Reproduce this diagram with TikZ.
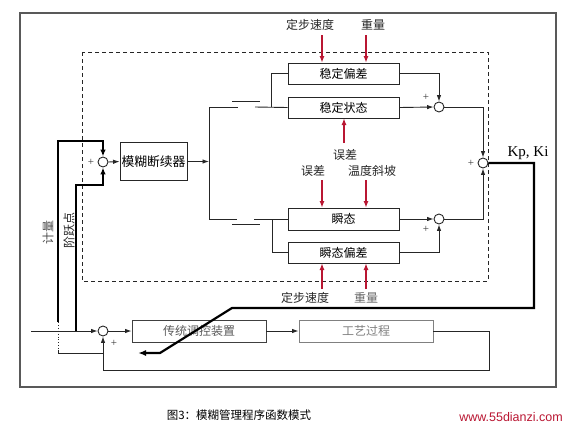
\documentclass[tikz,border=0pt]{standalone}
\usepackage{fontspec}
\setmainfont{Liberation Serif}
\newfontfamily\cjk{Noto Sans CJK SC}
\newfontfamily\urlfont{Liberation Sans}
\usetikzlibrary{arrows.meta,calc}
\definecolor{myred}{RGB}{185,22,50}
\begin{document}
\begin{tikzpicture}[x=1pt,y=-1pt,
  ln/.style={draw=black!85, line width=0.9pt},
  arr/.style={ln, -{Latex[length=6.5pt,width=4.5pt]}},
  thk/.style={draw=black, line width=2.2pt},
  thkarr/.style={thk, -{Latex[length=8pt,width=6pt]}},
  blk/.style={draw=black!85, line width=0.9pt, minimum width=111pt, minimum height=21pt, inner sep=0pt, font=\cjk\fontsize{12}{14}\selectfont},
  sumc/.style={circle, draw=black!85, line width=0.9pt, minimum size=10pt, inner sep=0pt},
  redarr/.style={draw=myred, line width=1.8pt, -{Latex[length=7pt,width=5pt]}},
  lbl/.style={font=\cjk\fontsize{12}{14}\selectfont, text=black!85, inner sep=0pt},
  pl/.style={font=\fontsize{11}{12}\selectfont, inner sep=0pt, text=black!80}
]
\useasboundingbox (0,0) rectangle (572,429);
% frames
\draw[draw=black!65, line width=1.3pt] (20,13) rectangle (556,387);
\draw[draw=black!85, line width=0.9pt, dash pattern=on 4pt off 3pt] (82,52) rectangle (488,281);

% blocks
\node[blk] (b1) at (343.5,73.5) {稳定偏差};
\node[blk] (b2) at (343.5,107.5) {稳定状态};
\node[blk, minimum height=22pt] (b3) at (343.5,219) {瞬态};
\node[blk] (b4) at (343.5,252.5) {瞬态偏差};
\node[blk, minimum width=67pt, minimum height=38pt, font=\cjk\fontsize{12.8}{14}\selectfont] (fz) at (153.5,161.5) {模糊断续器};
\node[blk, minimum width=134pt, minimum height=22pt, draw=black!75, text=black!65] (ct) at (199,331) {传统调控装置};
\node[blk, minimum width=134pt, minimum height=22pt, draw=black!50, text=black!50] (pr) at (366,331) {工艺过程};

% summing junctions
\node[sumc] (s1) at (439,107) {};
\node[sumc] (s2) at (439,219) {};
\node[sumc] (s3) at (483,163) {};
\node[sumc] (s0) at (103,162) {};
\node[sumc] (sL) at (103,331) {};

% coordinates
\coordinate (vt) at (209,107);
\coordinate (vb) at (209,219);
\coordinate (fzo) at (209,161.5);
\coordinate (in) at (31,331);

% upper right paths
\draw[arr] (b1.east) -| (s1.north);
\draw[arr] (b2.east) -- (s1.west);
\draw[arr] (s1.east) -| (s3.north);
\draw[arr] (b3.east) -- (s2.west);
\draw[arr] (b4.east) -| (s2.south);
\draw[arr] (s2.east) -| (s3.south);

% fuzzy switch
\draw[arr] (s0.east) -- (fz.west);
\draw[arr] (fz.east) -- (fzo);
\draw[ln] (vt) -- (vb);
\draw[ln] (vt) -- (238,107);
\draw[ln] (232,101) -- (260,101);
\draw[ln] (255,107) -- (b2.west);
\draw[ln] (271,107) |- (b1.west);
\draw[ln] (vb) -- (237,219);
\draw[ln] (232,224) -- (260,224);
\draw[ln] (254,219) -- (b3.west);
\draw[ln] (272,219) |- (b4.west);

% plus signs
\node[pl] at (426,97) {+};
\node[pl] at (471,163) {+};
\node[pl] at (426,229) {+};
\node[pl] at (91,162) {+};
\node[pl] at (114,343) {+};

% thick measurement / setpoint lines
\draw[thk, -{Latex[length=7pt,width=5.5pt]}] (58,322) -- (58,141) -- (103,141) -- (s0.north);
\draw[thk, -{Latex[length=7pt,width=5.5pt]}] (76,331) -- (76,185) -- (103,185) -- (s0.south);
\draw[ln, dotted] (58,322) -- (58,350);
\draw[ln] (58,350) -- (58,353) -- (103,353);

% lower loop
\draw[arr] (in) -- (sL.west);
\draw[arr] (sL.east) -- (ct.west);
\draw[arr] (ct.east) -- (pr.west);
\draw[ln] (pr.east) -- (489,331) -- (489,370) -- (103,370);
\draw[arr] (103,370) -- (sL.south);

% output Kp, Ki thick line
\draw[thkarr] (s3.east) -- (534,163) -- (534,308) -- (232,308) -- (160,353) -- (138,353);
\node[font=\fontsize{15}{16}\selectfont, inner sep=0pt] (kp) at (528,153) {Kp, Ki};

% red input arrows
\draw[redarr] (322,35) -- (322,63);
\draw[redarr] (366,35) -- (366,63);
\draw[redarr] (344,143) -- (344,118);
\draw[redarr] (322,180) -- (322,208);
\draw[redarr] (366,180) -- (366,208);
\draw[redarr] (322,289) -- (322,263);
\draw[redarr] (366,289) -- (366,263);

% labels
\node[lbl] (l1) at (310,25) {定步速度};
\node[lbl] (l2) at (373,25) {重量};
\node[lbl] (l3) at (345,155) {误差};
\node[lbl] (l4) at (313,171) {误差};
\node[lbl] (l5) at (372,171) {温度斜坡};
\node[lbl] (l6) at (305,298) {定步速度};
\node[lbl, text=black!60] (l7) at (366,298) {重量};
\node[lbl, rotate=90, text=black!70] (l8) at (48,232) {计量};
\node[lbl, rotate=90] (l9) at (69,230) {阶跃点};

% caption
\node[lbl, font=\cjk\fontsize{11.5}{13}\selectfont, text=black] (cap) at (239,415) {图3：模糊管理程序函数模式};
\node[inner sep=0pt, font=\urlfont\fontsize{12.5}{14}\selectfont, text=myred] (url) at (511,417) {www.55dianzi.com};
\end{tikzpicture}
\end{document}
